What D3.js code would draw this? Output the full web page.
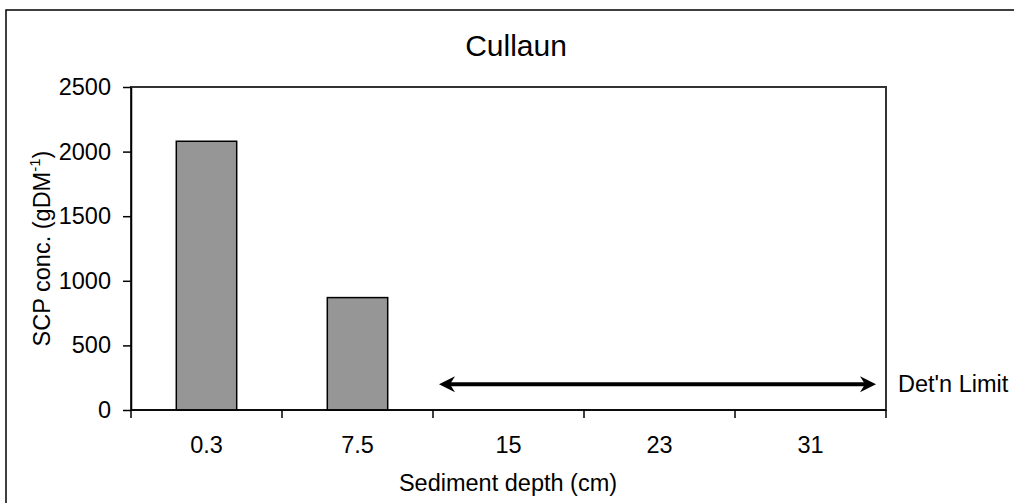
<!DOCTYPE html>
<html>
<head>
  <meta charset="UTF-8">
  <title>Cullaun</title>
  <style>
    body { margin: 0; background: #fff; }
    text { font-family: "Liberation Sans", Arial, sans-serif; fill: #000; }
  </style>
</head>
<body>
<svg id="chart"></svg>
<script src="https://d3js.org/d3.v7.min.js"></script>
<script>

// data
var depths = ["0.3", "7.5", "15", "23", "31"];
var scpConc = [2080, 870, null, null, null];
var yTicks = [0, 500, 1000, 1500, 2000, 2500];
var detLimit = 200;
var detLimitFrom = "15", detLimitTo = "31";

let width = 1014, height = 503;
let margin = {top: 87, right: 128, bottom: 93, left: 131};
let fs = "23.5px";

let svg = d3.select("#chart")
    .attr("width", width)
    .attr("height", height);

// outer frame (only top/left visible in the picture)
svg.append("rect")
    .attr("x", 6).attr("y", 10)
    .attr("width", 1200).attr("height", 800)
    .attr("fill", "none")
    .attr("stroke", "#000")
    .attr("stroke-width", 1.5);

var x = d3.scaleBand()
    .domain(depths)
    .range([margin.left, width - margin.right])
    .padding(0);

var y = d3.scaleLinear()
    .domain([0, 2500])
    .range([height - margin.bottom, margin.top]);

// plot area box
svg.append("rect")
    .attr("x", margin.left)
    .attr("y", margin.top)
    .attr("width", width - margin.left - margin.right)
    .attr("height", height - margin.top - margin.bottom)
    .attr("fill", "none")
    .attr("stroke", "#333")
    .attr("stroke-width", 2);

// bars
var barW = x.bandwidth() * 0.4;
var bars = depths.map(function(d, i){ return {depth: d, value: scpConc[i]}; })
    .filter(function(d){ return d.value != null; });

svg.selectAll("rect.bar")
    .data(bars)
    .enter()
    .append("rect")
    .attr("class", "bar")
    .attr("x", function(d){ return x(d.depth) + (x.bandwidth() - barW) / 2; })
    .attr("y", function(d){ return y(d.value); })
    .attr("width", barW)
    .attr("height", function(d){ return y(0) - y(d.value); })
    .attr("fill", "#969696")
    .attr("stroke", "#000")
    .attr("stroke-width", 1.5);

// y axis
var yAxis = svg.append("g")
    .attr("transform", "translate(" + margin.left + ",0)")
    .call(d3.axisLeft(y).tickValues(yTicks).tickFormat(d3.format("d"))
        .tickSize(8).tickPadding(12).tickSizeOuter(0));
yAxis.select(".domain").attr("stroke", "#000").attr("stroke-width", 1.5);
yAxis.selectAll(".tick line").attr("stroke", "#000").attr("stroke-width", 1.5);
yAxis.selectAll(".tick text")
    .style("font-family", "Liberation Sans, Arial, sans-serif")
    .style("font-size", fs)
    .attr("fill", "#000");

// x axis: ticks at category boundaries, labels centred in bands
var xAxisG = svg.append("g")
    .attr("transform", "translate(0," + y(0) + ")");
xAxisG.append("line")
    .attr("x1", margin.left).attr("x2", width - margin.right)
    .attr("stroke", "#000").attr("stroke-width", 1.5);

var bounds = depths.map(function(d){ return x(d); }).concat([x(depths[depths.length - 1]) + x.bandwidth()]);
xAxisG.selectAll("line.tick")
    .data(bounds)
    .enter()
    .append("line")
    .attr("class", "tick")
    .attr("x1", function(d){ return d; })
    .attr("x2", function(d){ return d; })
    .attr("y1", 0).attr("y2", 8)
    .attr("stroke", "#000").attr("stroke-width", 1.5);

xAxisG.selectAll("text")
    .data(depths)
    .enter()
    .append("text")
    .attr("x", function(d){ return x(d) + x.bandwidth() / 2; })
    .attr("y", 43)
    .attr("text-anchor", "middle")
    .style("font-size", fs)
    .text(function(d){ return d; });

// detection limit arrow
var ax1 = x(detLimitFrom) + 6,
    ax2 = x(detLimitTo) + x.bandwidth() - 10,
    ay = y(detLimit);

svg.append("line")
    .attr("x1", ax1 + 10).attr("x2", ax2 - 10)
    .attr("y1", ay).attr("y2", ay)
    .attr("stroke", "#000")
    .attr("stroke-width", 4);

function head(tipX, dir) {
    // dir = -1 pointing left, +1 pointing right
    var L = 16, W = 8, notch = 5;
    return "M" + tipX + "," + ay +
        " L" + (tipX - dir * L) + "," + (ay - W) +
        " L" + (tipX - dir * (L - notch)) + "," + ay +
        " L" + (tipX - dir * L) + "," + (ay + W) + " Z";
}
svg.append("path").attr("d", head(ax1, -1)).attr("fill", "#000");
svg.append("path").attr("d", head(ax2, 1)).attr("fill", "#000");

svg.append("text")
    .attr("x", width - margin.right + 12)
    .attr("y", ay + 8)
    .style("font-size", fs)
    .text("Det'n Limit");

// title
svg.append("text")
    .attr("x", 516)
    .attr("y", 56)
    .attr("text-anchor", "middle")
    .style("font-size", "30px")
    .text("Cullaun");

// axis titles
svg.append("text")
    .attr("x", 508)
    .attr("y", 491)
    .attr("text-anchor", "middle")
    .style("font-size", fs)
    .text("Sediment depth (cm)");

var yt = svg.append("text")
    .attr("transform", "translate(50," + ((margin.top + height - margin.bottom) / 2) + ") rotate(-90)")
    .attr("text-anchor", "middle")
    .style("font-size", fs);
yt.append("tspan").text("SCP conc. (gDM");
yt.append("tspan").attr("dy", -10).style("font-size", "15px").text("-1");
yt.append("tspan").attr("dy", 10).text(")");

</script>
</body>
</html>
